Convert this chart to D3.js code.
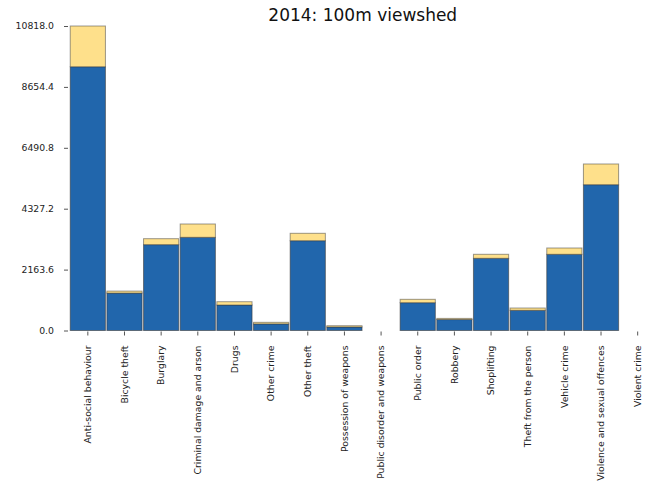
<!DOCTYPE html>
<html>
<head>
<meta charset="utf-8">
<script src="https://cdn.jsdelivr.net/npm/d3@7"></script>
<style>
  html, body { margin: 0; padding: 0; background: #fff; }
  svg { display: block; font-family: "DejaVu Sans", sans-serif; }
</style>
</head>
<body>
<svg id="chart" width="654" height="497"></svg>
<script>
// Crime categories within the 100m viewshed, 2014
const categories = [
  "Anti-social behaviour", "Bicycle theft", "Burglary", "Criminal damage and arson",
  "Drugs", "Other crime", "Other theft", "Possession of weapons",
  "Public disorder and weapons", "Public order", "Robbery", "Shoplifting",
  "Theft from the person", "Vehicle crime", "Violence and sexual offences", "Violent crime"
];
// lower (blue) segment
const baseCounts = [9370, 1330, 3050, 3310, 906, 235, 3190, 125, 0, 988, 390, 2565, 717, 2707, 5180, 0];
// upper (yellow) segment, stacked on top
const extraCounts = [1448, 70, 212, 474, 117, 55, 263, 45, 0, 120, 40, 142, 82, 224, 736, 0];
const yTicks = [0.0, 2163.6, 4327.2, 6490.8, 8654.4, 10818.0];
const titleText = "2014: 100m viewshed";

const svg = d3.select("#chart");
const plot = { left: 69.5, right: 656, top: 26, bottom: 330.5 };

const x = d3.scaleBand()
  .domain(categories)
  .range([plot.left, plot.right])
  .paddingInner(0.04)
  .paddingOuter(0.02);

const y = d3.scaleLinear()
  .domain([0, 10818])
  .range([plot.bottom, plot.top]);

const g = svg.append("g");

const stacked = categories.map((c, i) => ({
  cat: c,
  base: baseCounts[i],
  extra: extraCounts[i]
}));

// blue segments
g.selectAll("rect.base")
  .data(stacked)
  .join("rect")
  .attr("class", "base")
  .attr("x", d => x(d.cat))
  .attr("width", x.bandwidth())
  .attr("y", d => y(d.base))
  .attr("height", d => y(0) - y(d.base))
  .attr("fill", "#2166ac")
  .attr("stroke", "#3a3a3a")
  .attr("stroke-opacity", 0.6)
  .attr("stroke-width", 1);

// yellow segments
g.selectAll("rect.extra")
  .data(stacked)
  .join("rect")
  .attr("class", "extra")
  .attr("x", d => x(d.cat))
  .attr("width", x.bandwidth())
  .attr("y", d => y(d.base + d.extra))
  .attr("height", d => y(d.base) - y(d.base + d.extra))
  .attr("fill", "#fee08b")
  .attr("stroke", "#3a3a3a")
  .attr("stroke-opacity", 0.5)
  .attr("stroke-width", 1);

// y axis: ticks and labels, no spine
const yAxis = d3.axisLeft(y)
  .tickValues(yTicks)
  .tickFormat(d3.format(".1f"))
  .tickSize(4)
  .tickPadding(10);
const ya = svg.append("g")
  .attr("transform", `translate(${plot.left - 1.5},0)`)
  .call(yAxis);
ya.select(".domain").remove();
ya.selectAll(".tick line").attr("stroke", "#555");
ya.selectAll(".tick text")
  .attr("font-size", 9.3)
  .attr("fill", "#222")
  .attr("font-family", "DejaVu Sans, sans-serif");

// x axis: ticks and rotated labels, no spine
const xAxis = d3.axisBottom(x).tickSize(4).tickPadding(0);
const xa = svg.append("g")
  .attr("transform", `translate(0,${plot.bottom + 1})`)
  .call(xAxis);
xa.select(".domain").remove();
xa.selectAll(".tick line").attr("stroke", "#555");
xa.selectAll(".tick text")
  .attr("font-size", 9.3)
  .attr("fill", "#222")
  .attr("font-family", "DejaVu Sans, sans-serif")
  .attr("transform", "rotate(-90)")
  .attr("text-anchor", "end")
  .attr("dy", "0.35em")
  .attr("x", -14)
  .attr("y", 0);

// title
svg.append("text")
  .attr("x", (plot.left + plot.right) / 2)
  .attr("y", 20.5)
  .attr("text-anchor", "middle")
  .attr("font-size", 17)
  .attr("fill", "#111")
  .text(titleText);
</script>
</body>
</html>
